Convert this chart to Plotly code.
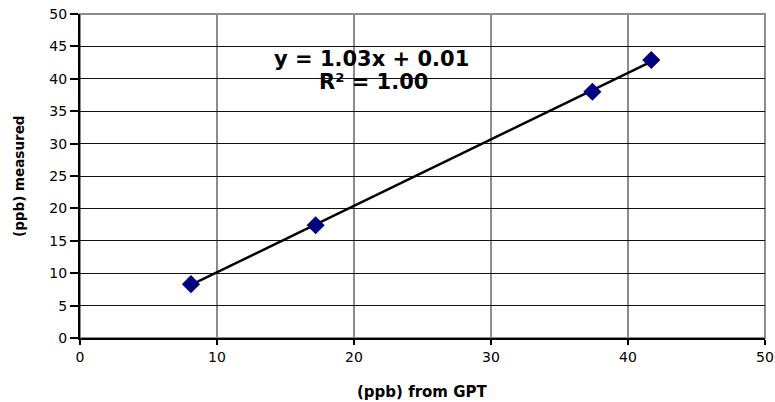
import numpy as np
import plotly.graph_objects as go

x_gpt = [8.1, 17.2, 37.4, 41.7]
y_measured = [8.3, 17.4, 38.0, 42.9]
x_ticks = [0, 10, 20, 30, 40, 50]
y_ticks = [0, 5, 10, 15, 20, 25, 30, 35, 40, 45, 50]
eq_lines = ["y = 1.03x + 0.01", "R² = 1.00"]

slope, intercept = np.polyfit(x_gpt, y_measured, 1)
fx = np.array([min(x_gpt), max(x_gpt)])
fy = slope * fx + intercept

FONT = "DejaVu Sans, Liberation Sans, Arial, sans-serif"

fig = go.Figure()
fig.add_trace(go.Scatter(x=fx, y=fy, mode="lines",
                         line=dict(color="black", width=2.5), showlegend=False,
                         hoverinfo="skip"))
fig.add_trace(go.Scatter(x=x_gpt, y=y_measured, mode="markers",
                         marker=dict(symbol="diamond", size=14, color="#000080",
                                     line=dict(width=0)),
                         showlegend=False))

fig.add_annotation(x=21.3, y=43.1, text="<b>" + eq_lines[0] + "</b>", showarrow=False,
                   font=dict(family=FONT, size=21, color="black"))
fig.add_annotation(x=21.4, y=39.5, text="<b>" + eq_lines[1] + "</b>", showarrow=False,
                   font=dict(family=FONT, size=21, color="black"))

# axis titles
fig.add_annotation(xref="paper", yref="paper", x=0.5, y=0, yshift=-54, yanchor="middle",
                   text="<b>(ppb) from GPT</b>", showarrow=False,
                   font=dict(family=FONT, size=15, color="black"))
fig.add_annotation(xref="paper", yref="paper", x=0, xshift=-61, xanchor="center", y=0.5,
                   text="<b>(ppb) measured</b>", showarrow=False, textangle=-90,
                   font=dict(family=FONT, size=13.5, color="black"))

fig.update_layout(
    width=775, height=402,
    margin=dict(l=80, r=10, t=14, b=64, autoexpand=False),
    paper_bgcolor="white", plot_bgcolor="white",
    font=dict(family=FONT, color="black"),
    xaxis=dict(range=[0, 50], tickvals=x_ticks, showgrid=True, gridcolor="#8c8c8c",
               gridwidth=1.5, showline=True, linecolor="black", linewidth=2,
               ticks="outside", ticklen=5, tickcolor="black", tickwidth=1.5,
               tickfont=dict(size=14), zeroline=False, automargin=False,
               ticklabeloverflow="allow"),
    yaxis=dict(range=[0, 50], tickvals=y_ticks, showgrid=True, gridcolor="#111111",
               gridwidth=1.2, showline=True, linecolor="black", linewidth=2,
               ticks="outside", ticklen=8, tickcolor="black", tickwidth=1.5,
               tickfont=dict(size=14), zeroline=False, automargin=False,
               ticklabeloverflow="allow"),
)
fig.add_shape(type="rect", xref="paper", yref="paper", x0=0, y0=0, x1=1, y1=1,
              line=dict(color="#8c8c8c", width=2), layer="below")

fig.write_html("out.html", config={"displayModeBar": False},
               post_script="document.body.style.margin='0';document.body.style.overflow='hidden';")
